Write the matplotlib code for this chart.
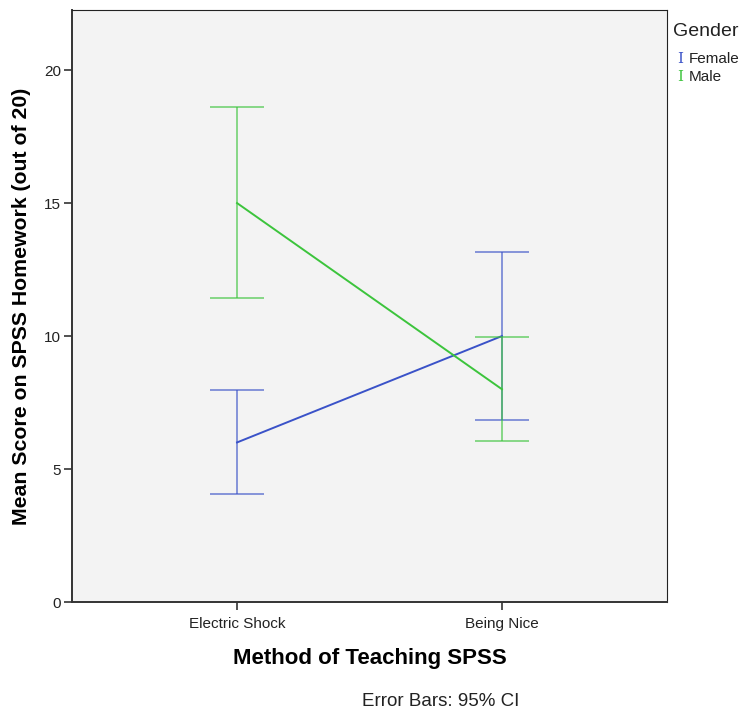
import matplotlib
matplotlib.use("Agg")
import matplotlib.pyplot as plt

plt.rcParams["font.family"] = ["Liberation Sans", "DejaVu Sans"]

methods = ["Electric Shock", "Being Nice"]
female_mean = [6.0, 10.0]
female_lo = [4.05, 6.84]
female_hi = [7.97, 13.16]
male_mean = [15.0, 8.0]
male_lo = [11.42, 6.05]
male_hi = [18.63, 9.98]

BLUE = "#3a52c8"
GREEN = "#3cc43c"

fig = plt.figure(figsize=(7.39, 7.11), dpi=100, facecolor="white")
ax = fig.add_axes([72 / 739, 1 - 602 / 711, 595 / 739, 592 / 711], facecolor="#f3f3f3")

x = list(range(len(methods)))
for mean, lo, hi, col in [(female_mean, female_lo, female_hi, BLUE),
                          (male_mean, male_lo, male_hi, GREEN)]:
    err = [[m - l for m, l in zip(mean, lo)], [h - m for m, h in zip(mean, hi)]]
    ax.errorbar(x, mean, yerr=err, fmt="none", ecolor=col, elinewidth=1.4,
                capsize=19.5, capthick=1.4, alpha=0.6)
    ax.plot(x, mean, color=col, linewidth=1.4)

ax.set_xlim(-0.623, 1.623)
ax.set_ylim(0, 22.26)
ax.set_xticks(x)
ax.set_xticklabels(methods)
ax.set_yticks([0, 5, 10, 15, 20])
ax.tick_params(axis="both", direction="out", length=6, width=1.2, colors="#333333",
               labelcolor="#222222", labelsize=11)
ax.tick_params(axis="x", pad=5)
ax.tick_params(axis="y", pad=2)
for s in ["left", "bottom"]:
    ax.spines[s].set_linewidth(1.4)
    ax.spines[s].set_color("#333333")
for s in ["top", "right"]:
    ax.spines[s].set_linewidth(0.8)
    ax.spines[s].set_color("#222222")

ax.set_ylabel("Mean Score on SPSS Homework (out of 20)", fontsize=15.3, fontweight="bold", labelpad=9)
ax.set_xlabel("Method of Teaching SPSS", fontsize=16, fontweight="bold", labelpad=12)

fig.text(441 / 739, 1 - 701 / 711, "Error Bars: 95% CI", fontsize=13.5, ha="center", va="center", color="#222222")

# legend
fig.text(673 / 739, 1 - 32 / 711, "Gender", fontsize=14, ha="left", va="center", color="#222222")
for yy, lab, col in [(59, "Female", BLUE), (77, "Male", GREEN)]:
    fig.text(680 / 739, 1 - yy / 711, "I", fontsize=11, family="DejaVu Serif",
             ha="center", va="center", color=col)
    fig.text(689 / 739, 1 - yy / 711, lab, fontsize=11, ha="left", va="center", color="#222222")

fig.savefig("out.png", dpi=100, facecolor="white")
